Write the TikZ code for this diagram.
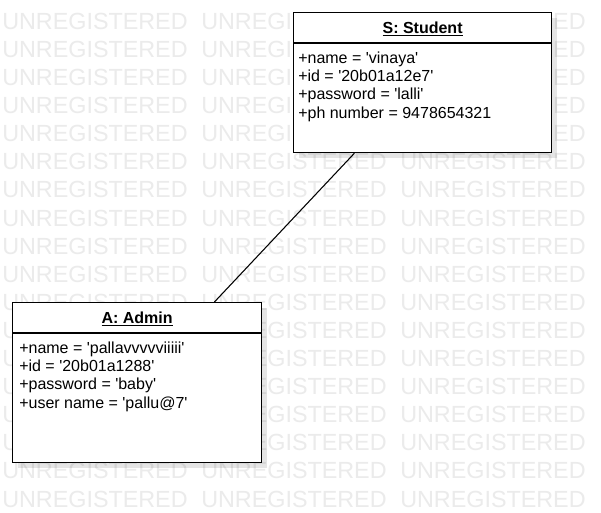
\documentclass[tikz,border=0pt]{standalone}
\usepackage{fontspec}
\setmainfont{Liberation Sans}
\usetikzlibrary{calc}
\definecolor{wmgray}{HTML}{EBEBEB}
\newcommand{\sq}{\textquotesingle}
\begin{document}
\begin{tikzpicture}[x=0.75pt,y=-0.75pt,
  wm/.style={text=wmgray, font=\fontsize{17.5}{20}\selectfont, anchor=base west, inner sep=0pt},
  classbox/.style={draw=black, line width=0.9pt, fill=white, anchor=north west, inner sep=0pt},
  shadowbox/.style={fill=black, opacity=0.1},
  titletext/.style={font=\fontsize{12}{14}\selectfont\bfseries, anchor=base, inner sep=0pt},
  attrtext/.style={font=\fontsize{12}{14}\selectfont, anchor=base west, inner sep=0pt},
  link/.style={draw=black, line width=0.8pt}]
\useasboundingbox[fill=white] (0,0) rectangle (601,512);
% watermark
\foreach \r in {0,...,17}{
  \foreach \c in {0,1,2}{
    \node[wm] (wm-\r-\c) at ({2+199*\c},{29.3+28.1*\r}) {UNREGISTERED};
  }
}
% shadows
\fill[shadowbox] (299,18) rectangle (557,158);
\fill[shadowbox] (18,308) rectangle (267,468);
% boxes
\node[classbox, minimum width=193.5pt, minimum height=105pt] (student) at (293,12) {};
\node[classbox, minimum width=186.75pt, minimum height=120pt] (admin) at (12,302) {};
\draw[line width=0.9pt] ($(student.north west)+(0,31)$) -- ($(student.north east)+(0,31)$);
\draw[line width=0.9pt] ($(admin.north west)+(0,31)$) -- ($(admin.north east)+(0,31)$);
% texts
\node[titletext] (stitle) at ($(student.north)+(0,21.3)$) {\underline{S: Student}};
\node[attrtext] (s1) at ($(student.north west)+(5,51.3)$) {+name = \sq vinaya\sq};
\node[attrtext] (s2) at ($(student.north west)+(5,69.6)$) {+id = \sq 20b01a12e7\sq};
\node[attrtext] (s3) at ($(student.north west)+(5,87.9)$) {+password = \sq lalli\sq};
\node[attrtext] (s4) at ($(student.north west)+(5,106.2)$) {+ph number = 9478654321};
\node[titletext] (atitle) at ($(admin.north)+(0,21.3)$) {\underline{A: Admin}};
\node[attrtext] (a1) at ($(admin.north west)+(7,51.3)$) {+name = \sq pallavvvvviiiii\sq};
\node[attrtext] (a2) at ($(admin.north west)+(7,69.6)$) {+id = \sq 20b01a1288\sq};
\node[attrtext] (a3) at ($(admin.north west)+(7,87.9)$) {+password = \sq baby\sq};
\node[attrtext] (a4) at ($(admin.north west)+(7,106.2)$) {+user name = \sq pallu@7\sq};
% connector
\draw[link] ($(student.south west)!0.237!(student.south east)$) -- ($(admin.north west)!0.809!(admin.north east)$);
\end{tikzpicture}
\end{document}
